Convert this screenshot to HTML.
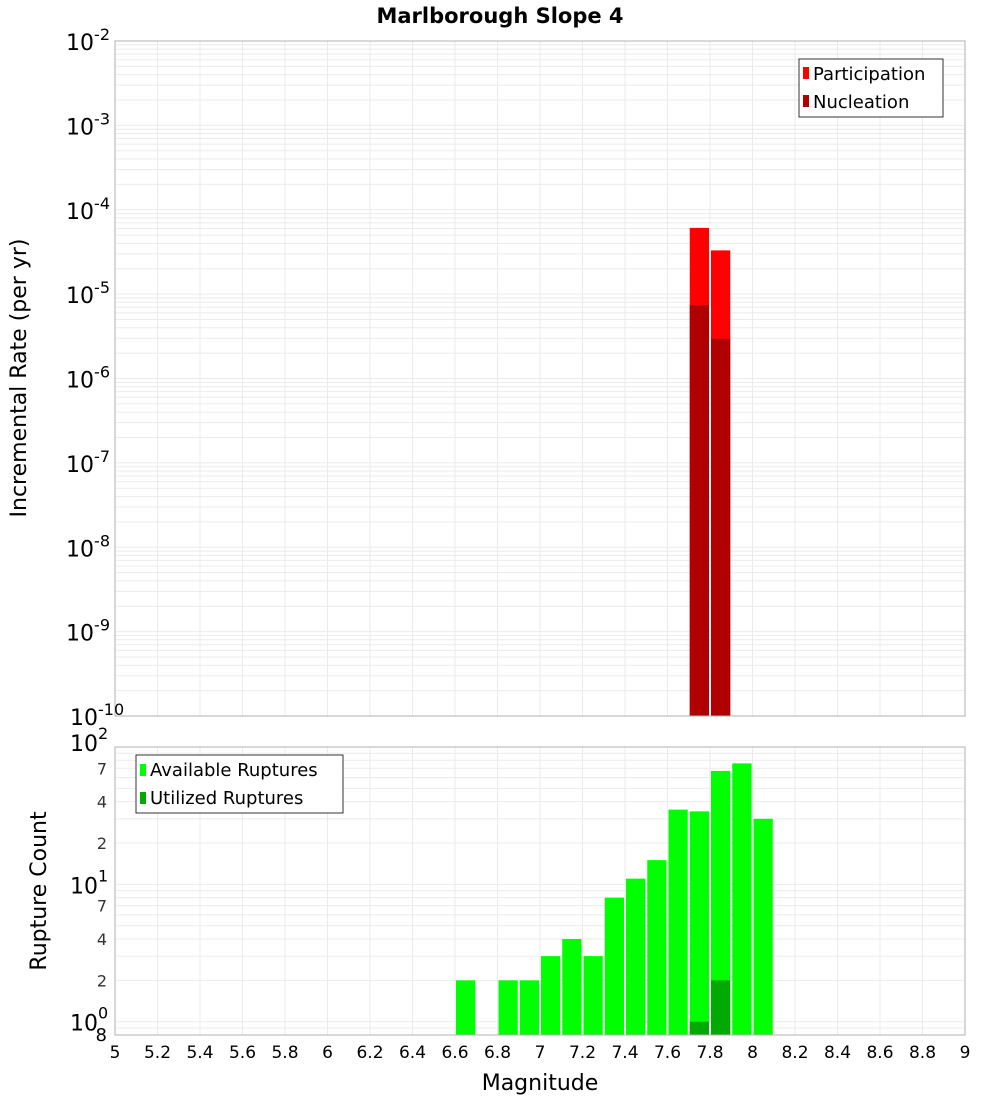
<!DOCTYPE html>
<html><head><meta charset="utf-8"><style>
body{margin:0;background:#fff;font-family:"DejaVu Sans","Liberation Sans",sans-serif}
svg text{font-family:"DejaVu Sans","Liberation Sans",sans-serif}
</style></head><body>
<svg id="c" width="1000" height="1100" xmlns="http://www.w3.org/2000/svg"></svg>
<script>
const topMags=[7.75,7.85];
const participation=[6.1e-5,3.3e-5];
const nucleation=[7.4e-6,2.95e-6];
const botMags=[6.65,6.85,6.95,7.05,7.15,7.25,7.35,7.45,7.55,7.65,7.75,7.85,7.95,8.05];
const available=[2,2,2,3,4,3,8,11,15,35,34,67,76,30];
const utilMags=[7.75,7.85];
const utilized=[1,2];
const xTicks=[5,5.2,5.4,5.6,5.8,6,6.2,6.4,6.6,6.8,7,7.2,7.4,7.6,7.8,8,8.2,8.4,8.6,8.8,9];
const topExps=[-2,-3,-4,-5,-6,-7,-8,-9,-10];
const botMinorLabels=[2,4,7];

const svg=document.getElementById('c');
const NS='http://www.w3.org/2000/svg';
function el(t,a,p){const e=document.createElementNS(NS,t);for(const k in a)e.setAttribute(k,a[k]);(p||svg).appendChild(e);return e;}
const L=115,R=965;
const X=m=>L+(m-5)/4*(R-L);
const T1=41,B1=716;const Y1=v=>B1-(Math.log10(v)+10)/8*(B1-T1);
const T2=747,B2=1035;const lo=Math.log10(0.8),hi=2;const Y2=v=>B2-(Math.log10(v)-lo)/(hi-lo)*(B2-T2);

// title
let t=el('text',{x:500,y:23,'text-anchor':'middle','font-size':21,'font-weight':'bold'});t.textContent='Marlborough Slope 4';


function grid(T,B,Y,decs,g){
  for(const m of xTicks){el('line',{x1:X(m),x2:X(m),y1:T,y2:B,stroke:'#ebebeb'},g);}
  for(const d of decs){for(let k=1;k<10;k++){const v=k*Math.pow(10,d);const y=Y(v);if(y<T-0.5||y>B+0.5)continue;el('line',{x1:L,x2:R,y1:y,y2:y,stroke:'#ebebeb'},g);}}
}
// top panel
const g1=el('g',{});
grid(T1,B1,Y1,[-10,-9,-8,-7,-6,-5,-4,-3,-2],g1);
const w=(X(0.1)-X(0))-2;
topMags.forEach((m,i)=>{
  const r=el('rect',{x:X(m-0.05)+1,y:Y1(participation[i]),width:w,height:B1-Y1(participation[i]),fill:'#ff0000'},g1);
  
  const r2=el('rect',{x:X(m-0.05)+1,y:Y1(nucleation[i]),width:w,height:B1-Y1(nucleation[i]),fill:'#b00000'},g1);
  
});
el('rect',{x:L,y:T1,width:R-L,height:B1-T1,fill:'none',stroke:'#b0b0b0'},g1);
topExps.forEach(e=>{
  const y=Y1(Math.pow(10,e));
  const tx=el('text',{x:e===-10?112:110,y:y+9,'text-anchor':'end','font-size':22},g1);
  
  if(e===-10){tx.setAttribute('x',70);tx.setAttribute('text-anchor','start');}
  const a=document.createElementNS(NS,'tspan');a.textContent='10';tx.appendChild(a);
  const b=document.createElementNS(NS,'tspan');b.setAttribute('dy',-10);b.setAttribute('font-size',16);b.textContent=String(e).replace('-','-');tx.appendChild(b);
});
t=el('text',{x:0,y:0,'text-anchor':'middle','font-size':22,transform:'translate(26,378) rotate(-90)'});t.textContent='Incremental Rate (per yr)';

// top legend
const lg=el('g',{});
el('rect',{x:799,y:59,width:144,height:58,fill:'#fff',stroke:'#333'},lg);
el('rect',{x:803,y:67,width:6,height:12,fill:'#ff0000'},lg);
el('rect',{x:803,y:95,width:6,height:12,fill:'#b00000'},lg);
t=el('text',{x:813,y:80,'font-size':18},lg);t.textContent='Participation';
t=el('text',{x:813,y:108,'font-size':18},lg);t.textContent='Nucleation';

// bottom panel
const g2=el('g',{});
grid(T2,B2,Y2,[-1,0,1],g2);
botMags.forEach((m,i)=>{
  const r=el('rect',{x:X(m-0.05)+1,y:Y2(available[i]),width:w,height:B2-Y2(available[i]),fill:'#00ff00'},g2);
  
});
utilMags.forEach((m,i)=>{
  const r=el('rect',{x:X(m-0.05)+1,y:Y2(utilized[i]),width:w,height:B2-Y2(utilized[i]),fill:'#00aa00'},g2);
  
});
el('rect',{x:L,y:T2,width:R-L,height:B2-T2,fill:'none',stroke:'#b0b0b0'},g2);
[2,1,0].forEach(e=>{
  const y=Y2(Math.pow(10,e));
  const tx=el('text',{x:70,y:e===2?y+4:y+9,'font-size':22},g2);
  
  const a=document.createElementNS(NS,'tspan');a.textContent='10';tx.appendChild(a);
  const b=document.createElementNS(NS,'tspan');b.setAttribute('dy',-12);b.setAttribute('font-size',16);b.textContent=String(e);tx.appendChild(b);
});
[0,1].forEach(d=>botMinorLabels.forEach(k=>{
  const y=Y2(k*Math.pow(10,d));
  const tx=el('text',{x:107,y:y+6,'text-anchor':'end','font-size':16,fill:'#333'},g2);tx.textContent=k;
  
}));
t=el('text',{x:107,y:1041,'text-anchor':'end','font-size':18},g2);t.textContent='8';
t=el('text',{x:0,y:0,'text-anchor':'middle','font-size':22,transform:'translate(46,891) rotate(-90)'});t.textContent='Rupture Count';

const lg2=el('g',{});
el('rect',{x:136,y:755,width:207,height:58,fill:'#fff',stroke:'#333'},lg2);
el('rect',{x:140,y:764,width:6,height:12,fill:'#00ff00'},lg2);
el('rect',{x:140,y:792,width:6,height:12,fill:'#00aa00'},lg2);
t=el('text',{x:150,y:776,'font-size':18},lg2);t.textContent='Available Ruptures';
t=el('text',{x:150,y:804,'font-size':18},lg2);t.textContent='Utilized Ruptures';

xTicks.forEach(m=>{
  const tx=el('text',{x:X(m),y:1058,'text-anchor':'middle','font-size':17});tx.textContent=String(m);
  
});
t=el('text',{x:540,y:1090,'text-anchor':'middle','font-size':22});t.textContent='Magnitude';

</script>
</body></html>
